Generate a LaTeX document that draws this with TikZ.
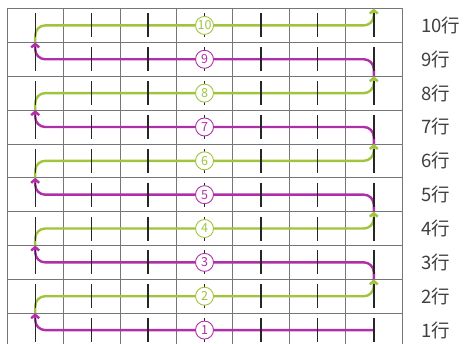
\documentclass[tikz,border=0pt]{standalone}
\usepackage{fontspec}
\newfontfamily\jpfont{Noto Sans CJK JP}
\usetikzlibrary{arrows.meta}
\definecolor{gr}{HTML}{A0C43C}
\definecolor{mg}{HTML}{B02FA8}
\definecolor{gridc}{HTML}{767676}
\definecolor{txt}{HTML}{404040}
\def\rowh{33.85}
\def\colw{56.43}
\def\ytop{8.5}
\def\xleft{35.2}
\def\xright{373.8}
\begin{document}
\begin{tikzpicture}[x=1pt,y=-1pt,
  gridline/.style={gridc,line width=0.7pt},
  tickmark/.style={black!85,line width=1.4pt},
  rowpath/.style={line width=2.4pt,rounded corners=10pt,-{Straight Barb[length=3.5pt,width=8pt]}},
  numcircle/.style={circle,draw,fill=white,line width=0.9pt,minimum size=18pt,inner sep=0pt,font=\jpfont\fontsize{12.5}{12.5}\selectfont},
  rowlabel/.style={anchor=west,inner sep=0pt,text=txt,font=\jpfont\fontsize{18.5}{18.5}\selectfont}]
\useasboundingbox (0,0) rectangle (470,344);
\fill[white] (0,0) rectangle (470,344);
\begin{scope}
\clip (0,0) rectangle (470,344);
% grid
\foreach \j in {0,...,7} \draw[gridline] ({7+\j*\colw},\ytop) -- ({7+\j*\colw},{\ytop+10*\rowh});
\foreach \i in {0,...,10} \draw[gridline] (7,{\ytop+\i*\rowh}) -- (402,{\ytop+\i*\rowh});
% coordinates
\foreach \b in {0,...,10} {
  \coordinate (L\b) at (\xleft,{\ytop+(10-\b)*\rowh});
  \coordinate (R\b) at (\xright,{\ytop+(10-\b)*\rowh});
}
\foreach \k in {1,...,10} {
  \coordinate (N\k) at (\xleft,{\ytop+(10.5-\k)*\rowh});
  \coordinate (M\k) at (\xright,{\ytop+(10.5-\k)*\rowh});
}
% row paths
\draw[rowpath,mg] (M1) -- (N1) -- (L1);
\foreach \k in {2,4,6,8,10} {
  \pgfmathtruncatemacro\p{\k-1}
  \draw[rowpath,gr] (L\p) |- (M\k) -- (R\k);
}
\foreach \k in {3,5,7,9} {
  \pgfmathtruncatemacro\p{\k-1}
  \draw[rowpath,mg] (R\p) |- (N\k) -- (L\k);
}
% tick marks
\foreach \k in {1,...,10}
  \foreach \j in {0,...,6}
    \draw[tickmark] ({7+(\j+0.5)*\colw},{\ytop+(10.5-\k)*\rowh-12}) -- ({7+(\j+0.5)*\colw},{\ytop+(10.5-\k)*\rowh+12});
% circled numbers
\foreach \k in {1,3,5,7,9}
  \node[numcircle,draw=mg,text=mg] (c\k) at ({7+3.5*\colw},{\ytop+(10.5-\k)*\rowh}) {\k};
\foreach \k in {2,4,6,8,10}
  \node[numcircle,draw=gr,text=gr] (c\k) at ({7+3.5*\colw},{\ytop+(10.5-\k)*\rowh}) {\k};
\end{scope}
% row labels
\foreach \k in {1,...,10}
  \node[rowlabel] (t\k) at (421,{\ytop+(10.5-\k)*\rowh}) {\k 行};
\end{tikzpicture}
\end{document}
